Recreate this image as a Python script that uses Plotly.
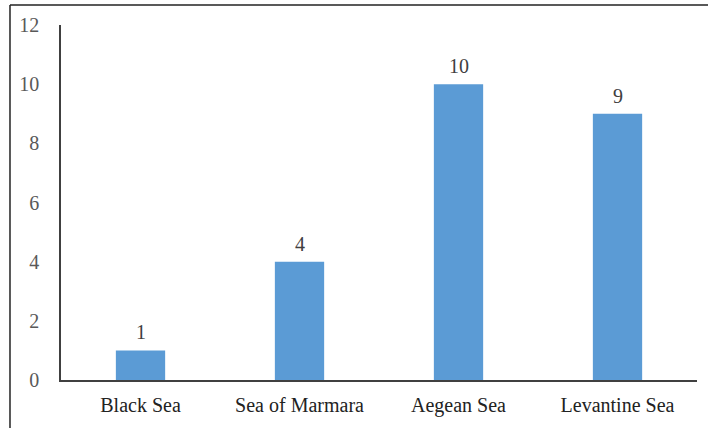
import plotly.graph_objects as go

seas = ['Black Sea', 'Sea of Marmara', 'Aegean Sea', 'Levantine Sea']
counts = [1, 4, 10, 9]
y_ticks = [0, 2, 4, 6, 8, 10, 12]

fig = go.Figure()

fig.add_trace(
    go.Bar(
        x=seas,
        y=counts,
        marker=dict(color='#5B9BD5', line=dict(width=0)),
        cliponaxis=False,
    )
)

# value labels above the bars
for s, c in zip(seas, counts):
    fig.add_annotation(
        x=s, y=c, text=str(c),
        showarrow=False, yanchor='bottom', yshift=5,
        font=dict(family='Liberation Serif', size=20, color='#404040'),
    )

fig.update_layout(
    width=708,
    height=428,
    plot_bgcolor='#ffffff',
    paper_bgcolor='#ffffff',
    bargap=0.69,
    showlegend=False,
    margin=dict(l=61, r=11, t=25, b=48, pad=0),
    font=dict(family='Liberation Serif', size=20, color='#222222'),
    xaxis=dict(
        showline=True, linecolor='#404040', linewidth=1.5,
        ticks='', showgrid=False,
        tickfont=dict(family='Liberation Serif', size=20, color='#222222'),
        ticklabelstandoff=6,
    ),
    yaxis=dict(
        range=[0, 12],
        tickvals=y_ticks,
        showline=True, linecolor='#404040', linewidth=1.5,
        ticks='', showgrid=False, zeroline=False,
        tickfont=dict(family='Liberation Serif', size=20, color='#595959'),
        ticklabelstandoff=16,
    ),
    # frame of the cropped chart: left and top edges only
    shapes=[
        dict(type='line', xref='paper', yref='paper',
             x0=-0.0802, x1=-0.0802, y0=1.056, y1=-0.2,
             line=dict(color='#222222', width=1.5)),
        dict(type='line', xref='paper', yref='paper',
             x0=-0.0802, x1=1.1, y0=1.056, y1=1.056,
             line=dict(color='#222222', width=1.5)),
    ],
)

fig.write_html(
    "out.html",
    config={'displayModeBar': False},
    post_script="document.body.style.margin='0';",
)
